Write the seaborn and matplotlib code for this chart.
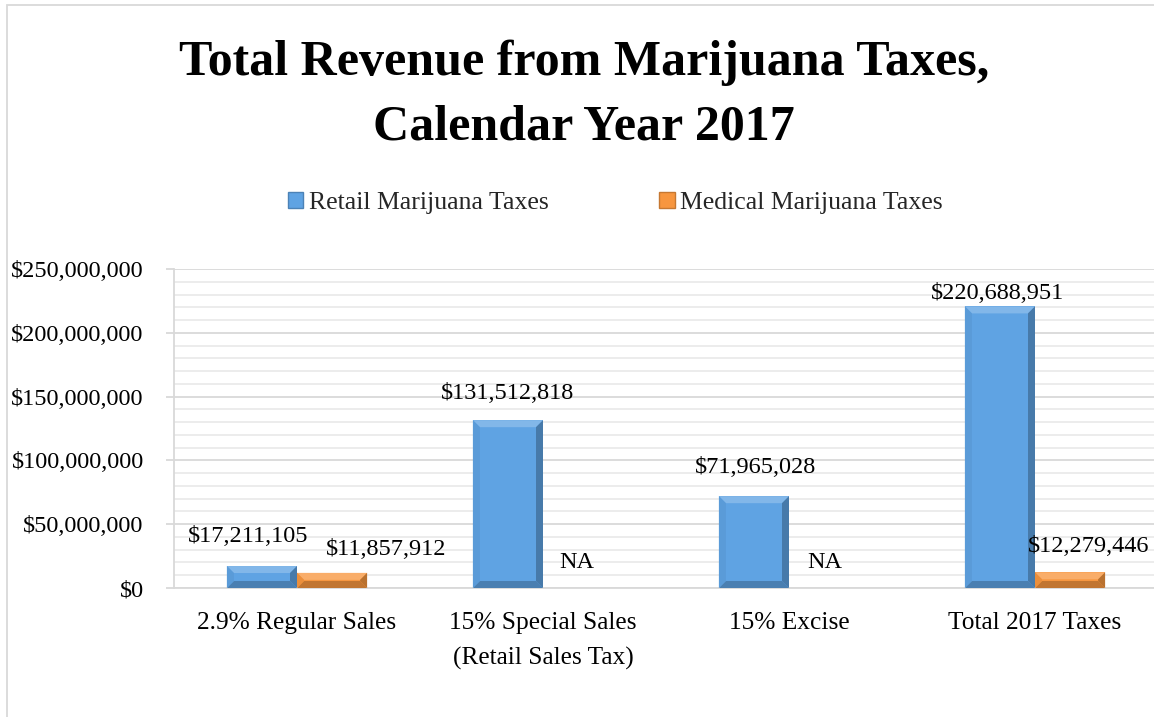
import numpy as np
import pandas as pd
import matplotlib
matplotlib.use("Agg")
import matplotlib.pyplot as plt
import seaborn as sns
from matplotlib.ticker import MultipleLocator, FuncFormatter
from matplotlib.patches import Polygon, Patch, Rectangle
from matplotlib.transforms import IdentityTransform

# ---------------- data ----------------
categories = ["2.9% Regular Sales", "15% Special Sales\n(Retail Sales Tax)",
              "15% Excise", "Total 2017 Taxes"]
series_names = ["Retail Marijuana Taxes", "Medical Marijuana Taxes"]
retail = [17211105, 131512818, 71965028, 220688951]
medical = [11857912, None, None, 12279446]
title_lines = ["Total Revenue from Marijuana Taxes,", "Calendar Year 2017"]

# label offsets (pixels) relative to bar top centre, to mimic the hand-placed labels
retail_label_offsets = [(-14, 30), (0, 27), (2, 29), (-2, 13)]
medical_label_offsets = [(54, 23), (-1, 26), (1, 26), (19, 26)]

# ---------------- style ----------------
sns.set_theme(style="white")
plt.rcParams["font.family"] = ["Liberation Serif", "DejaVu Serif"]

BLUE = "#5FA3E3"
ORANGE = "#F7963F"
GRID_MAJOR = "#D9D9D9"
GRID_MINOR = "#EBEBEB"
FS_NUM = 17.5
FS_TXT = 18.3
FS_LEG = 18.5

rows = []
for c, r, m in zip(categories, retail, medical):
    rows.append({"cat": c, "series": series_names[0], "value": r})
    rows.append({"cat": c, "series": series_names[1], "value": np.nan if m is None else m})
df = pd.DataFrame(rows)
df["plot_value"] = df["value"].fillna(0)

W, H = 1154, 717
fig = plt.figure(figsize=(W / 100, H / 100), dpi=100)
ax = fig.add_axes([174 / W, (H - 588) / H, 984 / W, (588 - 269) / H])

sns.barplot(data=df, x="cat", y="plot_value", hue="series", order=categories,
            hue_order=series_names, palette=[BLUE, ORANGE], width=0.57,
            dodge=True, ax=ax, legend=False, saturation=1, errorbar=None,
            linewidth=0)

ax.set_xlim(-0.5, len(categories) - 0.5)
ax.set_ylim(0, 250_000_000)
ax.yaxis.set_major_locator(MultipleLocator(50_000_000))
ax.yaxis.set_minor_locator(MultipleLocator(10_000_000))
ax.yaxis.set_major_formatter(FuncFormatter(lambda v, p: f"${v:,.0f}"))
ax.set_axisbelow(True)
ax.grid(which="minor", axis="y", color=GRID_MINOR, lw=1.3)
ax.grid(which="major", axis="y", color=GRID_MAJOR, lw=1.3)
ax.grid(axis="x", visible=False)
for s in ["top", "right"]:
    ax.spines[s].set_visible(False)
for s in ["left", "bottom"]:
    ax.spines[s].set_color(GRID_MAJOR)
    ax.spines[s].set_linewidth(1.3)
ax.tick_params(axis="y", which="major", length=5.8, width=1.3, color=GRID_MAJOR,
               pad=16, labelsize=FS_NUM, labelcolor="black", left=True)
ax.tick_params(axis="y", which="minor", length=0)
ax.tick_params(axis="x", length=0, pad=17, labelsize=FS_TXT, labelcolor="black")
for lbl in ax.get_xticklabels():
    lbl.set_linespacing(1.75)
ax.set_xlabel("")
ax.set_ylabel("")


# ---------------- bevel effect ----------------
def shade(color, f):
    c = np.array(matplotlib.colors.to_rgb(color))
    if f >= 0:
        c = c + (1 - c) * f
    else:
        c = c * (1 + f)
    return tuple(np.clip(c, 0, 1))


def bevel(patch, base, b=7):
    x, y, w, h = patch.get_x(), patch.get_y(), patch.get_width(), patch.get_height()
    if h <= 0:
        return
    (x0, y0), (x1, y1) = ax.transData.transform([(x, y), (x + w, y + h)])
    bv = min(b, (y1 - y0) / 2)
    bh = min(b, (x1 - x0) / 2)
    polys = [
        ([(x0, y1), (x1, y1), (x1 - bh, y1 - bv), (x0 + bh, y1 - bv)], shade(base, 0.22)),
        ([(x0, y0), (x1, y0), (x1 - bh, y0 + bv), (x0 + bh, y0 + bv)], shade(base, -0.22)),
        ([(x0, y0), (x0, y1), (x0 + bh, y1 - bv), (x0 + bh, y0 + bv)], shade(base, -0.05)),
        ([(x1, y0), (x1, y1), (x1 - bh, y1 - bv), (x1 - bh, y0 + bv)], shade(base, -0.25)),
    ]
    for pts, col in polys:
        ax.add_patch(Polygon(pts, closed=True, facecolor=col, edgecolor="none",
                             transform=IdentityTransform(), zorder=3))


containers = ax.containers
for cont, base, vals, offs in zip(containers, [BLUE, ORANGE], [retail, medical],
                                  [retail_label_offsets, medical_label_offsets]):
    for bar, v, (dx, dy) in zip(cont, vals, offs):
        bevel(bar, base)
        txt = "NA" if v is None else f"${v:,.0f}"
        ax.annotate(txt, xy=(bar.get_x() + bar.get_width() / 2, bar.get_height()),
                    xytext=(dx, dy), textcoords="offset pixels",
                    ha="center", va="center", fontsize=FS_NUM, color="black",
                    annotation_clip=False, zorder=5)

# ---------------- title, legend, frame ----------------
for line, base_y in zip(title_lines, [75, 140]):
    fig.text(584 / W, 1 - base_y / H, line, ha="center", va="baseline",
             fontsize=36, fontweight="bold", color="black")

handles = [Patch(facecolor=BLUE, edgecolor=shade(BLUE, -0.2)),
           Patch(facecolor=ORANGE, edgecolor=shade(ORANGE, -0.2))]
fig.legend(handles, series_names, loc="center", bbox_to_anchor=(615 / W, 1 - 203 / H),
           ncol=2, frameon=False, fontsize=FS_LEG, handlelength=0.62, handleheight=0.62,
           handletextpad=0.2, columnspacing=4.3, borderaxespad=0, borderpad=0)

fig.patches.append(Rectangle((7 / W, -0.1), 1.2, 1.1 - 5 / H, transform=fig.transFigure,
                             fill=False, edgecolor=GRID_MAJOR, lw=1.3))

fig.savefig("out.png", dpi=100)
